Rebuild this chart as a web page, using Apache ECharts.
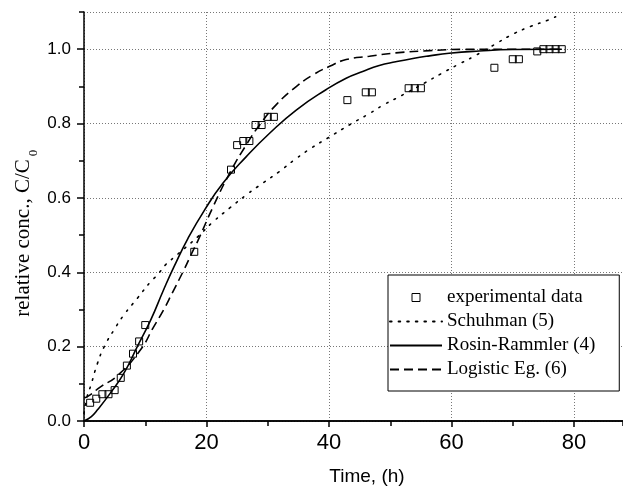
<!DOCTYPE html>
<html>
<head>
<meta charset="utf-8">
<script src="https://cdn.jsdelivr.net/npm/echarts@6/dist/echarts.min.js"></script>
<style>
html,body{margin:0;padding:0;background:#fff;}
#chart{width:623px;height:488px;}
</style>
</head>
<body>
<div id="chart"></div>
<script>
// ---- data ----
const expTime = [1, 2, 3, 4, 5, 6, 7, 8, 9, 10, 18, 24, 25, 26, 27, 28, 29, 30, 31, 43, 46, 47, 53, 54, 55, 67, 70, 71, 74, 75, 76, 77, 78];
const expConc = [0.049, 0.060, 0.072, 0.072, 0.083, 0.116, 0.149, 0.181, 0.214, 0.258, 0.455, 0.676, 0.742, 0.753, 0.753, 0.796, 0.796, 0.818, 0.818, 0.863, 0.884, 0.884, 0.895, 0.895, 0.895, 0.950, 0.973, 0.973, 0.994, 1.0, 1.0, 1.0, 1.0];

const schuhmanTime = [0, 0.5, 1.1, 2.2, 3.3, 4.9, 6.5, 8.7, 10.9, 12, 13.3, 14.7, 18.6, 21.1, 23.8, 26.5, 29.2, 31.9, 34.4, 37.1, 39.8, 43.6, 46.3, 49, 51.8, 55.6, 58.3, 61, 63.7, 67.5, 70.2, 72.9, 75.7, 77];
const schuhmanConc = [0.02, 0.065, 0.095, 0.155, 0.2, 0.245, 0.285, 0.33, 0.375, 0.393, 0.42, 0.44, 0.496, 0.536, 0.573, 0.608, 0.64, 0.671, 0.703, 0.734, 0.761, 0.799, 0.824, 0.851, 0.875, 0.909, 0.934, 0.958, 0.981, 1.017, 1.042, 1.061, 1.078, 1.087];

const rosinTime = [0, 1.2, 2.2, 4.3, 6.5, 8.7, 10.9, 13, 14.7, 17, 19.7, 22.7, 26.5, 30.3, 34.7, 39.5, 42.8, 45.5, 48.2, 50.9, 53.7, 56.4, 59.6, 64.5, 70, 78];
const rosinConc = [0, 0.012, 0.030, 0.075, 0.128, 0.2, 0.272, 0.353, 0.415, 0.492, 0.568, 0.64, 0.711, 0.774, 0.837, 0.891, 0.922, 0.94, 0.956, 0.966, 0.975, 0.982, 0.989, 0.995, 0.999, 1.0];

const logisticTime = [0, 0.5, 2.7, 5.4, 9.2, 11.4, 13, 14.4, 16.3, 17.7, 18.6, 21.1, 23.8, 26.5, 28.7, 31.4, 34.7, 37.4, 40.1, 42.8, 46.6, 50.9, 56.4, 61.8, 70, 78];
const logisticConc = [0.063, 0.065, 0.092, 0.121, 0.191, 0.254, 0.299, 0.344, 0.406, 0.455, 0.485, 0.577, 0.667, 0.743, 0.797, 0.851, 0.90, 0.931, 0.954, 0.972, 0.981, 0.99, 0.996, 0.9995, 1.0, 1.0];

const seriesNames = ['experimental data', 'Schuhman (5)', 'Rosin-Rammler (4)', 'Logistic Eg. (6)'];
const xAxisTitle = 'Time, (h)';
const yAxisTitle = 'relative conc., C/C';
const yAxisTitleSub = '0';

// ---- chart ----
const pairs = (xs, ys) => xs.map((x, i) => [x, ys[i]]);
const chart = echarts.init(document.getElementById('chart'), null, {renderer: 'canvas'});

const sans = 'Liberation Sans';
const serif = 'Liberation Serif';
const gridDots = {show: true, lineStyle: {color: '#777', width: 1, type: [1, 2]}};

const option = {
  backgroundColor: '#fff',
  animation: false,
  grid: {left: 84, top: 12, right: 0, bottom: 67, containLabel: false},
  xAxis: [
    {
      type: 'value', min: 0, max: 88, interval: 20, position: 'bottom',
      axisLine: {show: true, onZero: false, lineStyle: {color: '#000', width: 1.5}},
      axisTick: {show: true, inside: false, length: 6, lineStyle: {color: '#000', width: 1.5}},
      axisLabel: {show: true, margin: 11, showMaxLabel: false, fontFamily: sans, fontSize: 22, color: '#000'},
      splitLine: gridDots
    },
    {
      type: 'value', min: 0, max: 88, interval: 10, position: 'bottom',
      axisLine: {show: false},
      axisTick: {show: true, length: 5, lineStyle: {color: '#000', width: 1.5}},
      axisLabel: {show: false}, splitLine: {show: false}
    },
    {
      type: 'value', min: 0, max: 88, position: 'top',
      axisLine: {show: true, lineStyle: {color: '#000', width: 1.5}},
      axisTick: {show: false}, axisLabel: {show: false}, splitLine: {show: false}
    }
  ],
  yAxis: [
    {
      type: 'value', min: 0, max: 1.1, interval: 0.2, position: 'left',
      axisLine: {show: true, onZero: false, lineStyle: {color: '#000', width: 1.5}},
      axisTick: {show: true, length: 7, lineStyle: {color: '#000', width: 1.5}},
      axisLabel: {show: true, margin: 13, showMaxLabel: false, fontFamily: sans, fontSize: 17, color: '#000',
                  formatter: v => v.toFixed(1)},
      splitLine: gridDots
    },
    {
      type: 'value', min: 0, max: 1.1, interval: 0.1, position: 'left',
      axisLine: {show: false},
      axisTick: {show: true, length: 5, lineStyle: {color: '#000', width: 1.5}},
      axisLabel: {show: false}, splitLine: {show: false}
    }
  ],
  legend: {
    orient: 'vertical', left: 388, top: 275,
    padding: [13, 24, 12, 1],
    itemWidth: 52, itemHeight: 10, itemGap: 5,
    backgroundColor: '#fff', borderColor: '#000', borderWidth: 1, borderRadius: 0,
    textStyle: {fontFamily: serif, fontSize: 19, color: '#000'},
    data: [
      {name: seriesNames[0], itemStyle: {borderWidth: 1, borderColor: '#000', color: 'rgba(0,0,0,0)'}},
      {name: seriesNames[1], itemStyle: {opacity: 0}},
      {name: seriesNames[2], itemStyle: {opacity: 0}},
      {name: seriesNames[3], itemStyle: {opacity: 0}}
    ]
  },
  series: [
    {
      name: seriesNames[1], type: 'line', xAxisIndex: 0, yAxisIndex: 0,
      data: pairs(schuhmanTime, schuhmanConc), smooth: 0.5, symbol: 'none',
      lineStyle: {color: '#000', width: 1.6, type: [1.6, 7], cap: 'round'}, z: 3
    },
    {
      name: seriesNames[2], type: 'line', xAxisIndex: 0, yAxisIndex: 0,
      data: pairs(rosinTime, rosinConc), smooth: 0.5, symbol: 'none',
      lineStyle: {color: '#000', width: 1.6, type: 'solid'}, z: 3
    },
    {
      name: seriesNames[3], type: 'line', xAxisIndex: 0, yAxisIndex: 0,
      data: pairs(logisticTime, logisticConc), smooth: 0.5, symbol: 'none',
      lineStyle: {color: '#000', width: 1.6, type: [9, 5]}, z: 3
    },
    {
      name: seriesNames[0], type: 'line', xAxisIndex: 0, yAxisIndex: 0,
      data: pairs(expTime, expConc), symbol: 'rect', symbolSize: 7, showSymbol: true, showAllSymbol: true,
      lineStyle: {opacity: 0, width: 0},
      itemStyle: {color: 'rgba(0,0,0,0)', borderColor: '#000', borderWidth: 1}, z: 4
    }
  ],
  graphic: [
    {
      type: 'text', x: 367, y: 477, z: 10,
      style: {text: xAxisTitle, fontFamily: sans, fontSize: 19, fill: '#000', align: 'center', verticalAlign: 'middle'}
    },
    {
      type: 'text', x: 23, y: 238, rotation: Math.PI / 2, z: 10,
      style: {text: yAxisTitle, fontFamily: serif, fontSize: 21, fill: '#000', align: 'center', verticalAlign: 'middle'}
    },
    {
      type: 'text', x: 34, y: 153, rotation: Math.PI / 2, z: 10,
      style: {text: yAxisTitleSub, fontFamily: serif, fontSize: 13, fill: '#000', align: 'center', verticalAlign: 'middle'}
    }
  ]
};
chart.setOption(option);
</script>
</body>
</html>
